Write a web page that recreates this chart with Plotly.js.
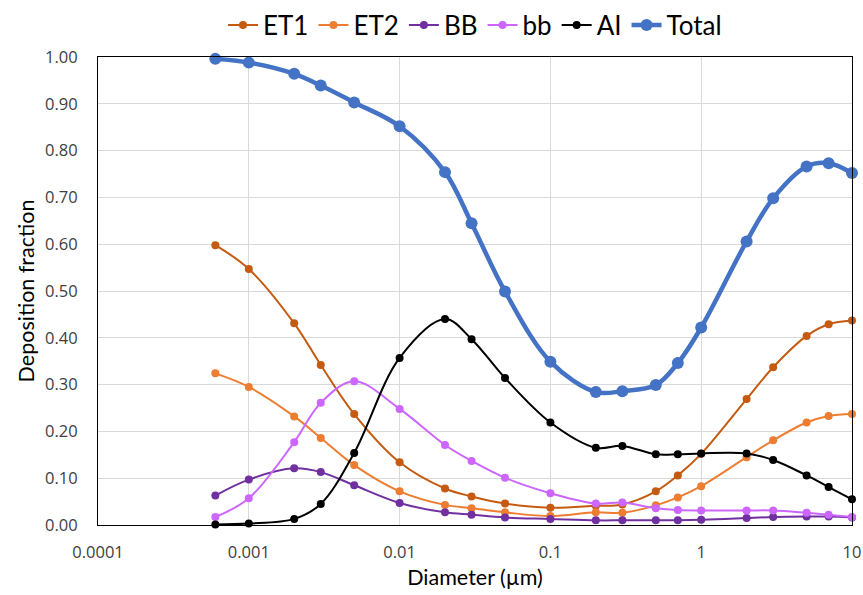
<!DOCTYPE html>
<html>
<head>
<meta charset="utf-8">
<script src="https://cdn.plot.ly/plotly-3.0.1.min.js"></script>
<style>html,body{margin:0;padding:0;background:#fff;}#chart{width:863px;height:595px;}</style>
</head>
<body>
<div id="chart"></div>
<script>
var diameter = [0.0006, 0.001, 0.002, 0.003, 0.005, 0.01, 0.02, 0.03, 0.05, 0.1, 0.2, 0.3, 0.5, 0.7, 1, 2, 3, 5, 7, 10];
var ET1 = [0.598, 0.547, 0.431, 0.342, 0.237, 0.134, 0.078, 0.061, 0.046, 0.037, 0.041, 0.044, 0.072, 0.106, 0.152, 0.269, 0.337, 0.404, 0.429, 0.437];
var ET2 = [0.324, 0.295, 0.232, 0.186, 0.128, 0.072, 0.043, 0.036, 0.027, 0.019, 0.027, 0.026, 0.042, 0.059, 0.083, 0.145, 0.181, 0.219, 0.233, 0.237];
var BB = [0.063, 0.097, 0.121, 0.113, 0.085, 0.047, 0.027, 0.022, 0.016, 0.013, 0.010, 0.010, 0.010, 0.010, 0.011, 0.015, 0.017, 0.018, 0.018, 0.016];
var bb = [0.017, 0.057, 0.177, 0.261, 0.307, 0.248, 0.171, 0.137, 0.101, 0.068, 0.046, 0.048, 0.036, 0.032, 0.031, 0.031, 0.031, 0.026, 0.022, 0.017];
var AI = [0.001, 0.003, 0.013, 0.045, 0.154, 0.357, 0.440, 0.397, 0.314, 0.219, 0.165, 0.169, 0.151, 0.151, 0.153, 0.153, 0.139, 0.106, 0.081, 0.055];
var Total = [0.996, 0.988, 0.964, 0.939, 0.903, 0.852, 0.754, 0.645, 0.499, 0.349, 0.284, 0.286, 0.299, 0.346, 0.422, 0.606, 0.698, 0.766, 0.773, 0.752];

var xTickVals = [0.0001, 0.001, 0.01, 0.1, 1, 10];
var xTickText = ["0.0001", "0.001", "0.01", "0.1", "1", "10"];
var yTickVals = [0, 0.1, 0.2, 0.3, 0.4, 0.5, 0.6, 0.7, 0.8, 0.9, 1.0];

function series(name, y, color, lw, ms) {
  return {
    type: 'scatter', mode: 'lines+markers', name: name,
    x: diameter, y: y,
    line: {color: color, width: lw, shape: 'spline', smoothing: 1},
    marker: {color: color, size: ms},
    cliponaxis: false
  };
}

var data = [
  series('ET1', ET1, '#C55A11', 2, 8),
  series('ET2', ET2, '#ED7D31', 2, 8),
  series('BB', BB, '#7030A0', 2, 8),
  series('bb', bb, '#CC66FF', 2, 8),
  series('AI', AI, '#000000', 2, 8),
  series('Total', Total, '#4472C4', 4.5, 12)
];

var tickFont = {family: 'Open Sans, Noto Sans, sans-serif', size: 16.5, color: '#404040'};
var titleFont = {family: 'Lato, Carlito, sans-serif', size: 21.5, color: '#000000'};

var layout = {
  width: 863, height: 595,
  margin: {l: 98, r: 11, t: 57, b: 70},
  paper_bgcolor: '#ffffff', plot_bgcolor: '#ffffff',
  showlegend: true,
  legend: {
    orientation: 'h', x: 0.5, xanchor: 'center', xref: 'paper',
    y: 0.958, yref: 'container', yanchor: 'middle',
    font: {family: 'Lato, Carlito, sans-serif', size: 26, color: '#000000'},
    itemwidth: 30, tracegroupgap: 0
  },
  xaxis: {
    type: 'log', range: [-4, 1],
    tickvals: xTickVals, ticktext: xTickText,
    showgrid: true, gridcolor: '#D9D9D9', gridwidth: 1,
    showline: true, linecolor: '#000000', linewidth: 1, mirror: true,
    ticks: '', ticklabelstandoff: 12,
    tickfont: tickFont, zeroline: false,
    title: {text: 'Diameter (µm)', font: titleFont, standoff: 8}
  },
  yaxis: {
    range: [0, 1.0],
    tickvals: yTickVals, tickformat: '.2f',
    showgrid: true, gridcolor: '#D9D9D9', gridwidth: 1,
    showline: true, linecolor: '#000000', linewidth: 1, mirror: true,
    ticks: '', ticklabelstandoff: 16,
    tickfont: tickFont, zeroline: false,
    title: {text: 'Deposition fraction', font: titleFont, standoff: 4}
  },
  hovermode: false
};

Plotly.newPlot('chart', data, layout, {displayModeBar: false, staticPlot: true});
</script>
</body>
</html>
